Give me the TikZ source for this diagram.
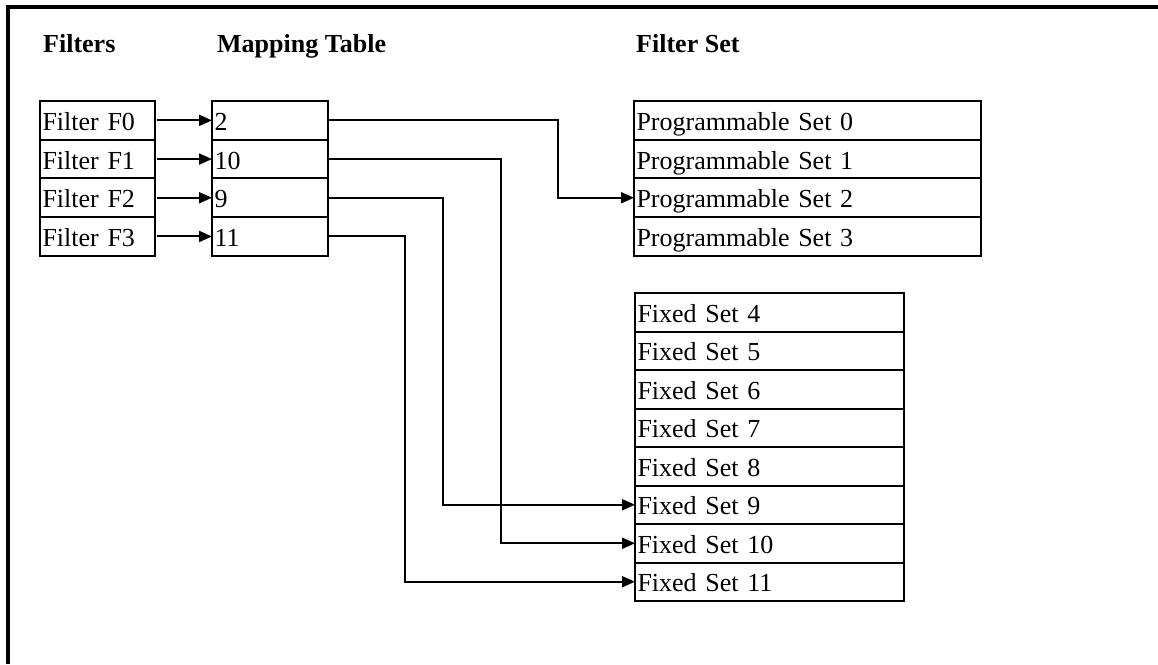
\documentclass[tikz,border=0pt]{standalone}
\usepackage{fontspec}
\setmainfont{Liberation Serif}
\usetikzlibrary{arrows.meta}
\tikzset{
  cell/.style={draw, line width=2pt, rectangle, anchor=north west, outer sep=0pt,
    minimum height=38.7pt, inner xsep=2.5pt, inner ysep=0pt, align=left,
    text height=22pt, text depth=2pt, font=\fontsize{26}{30}\selectfont},
  fcell/.style={cell, text width=110pt},
  mcell/.style={cell, text width=111pt},
  pcell/.style={cell, text width=342pt},
  xcell/.style={cell, text width=264pt, minimum height=38.5pt},
  head/.style={anchor=base west, inner sep=0pt, font=\fontsize{26}{30}\selectfont\bfseries},
  arr/.style={line width=2pt, -{Triangle[length=13pt,width=11pt]}},
  frame/.style={line width=4pt}
}
\begin{document}
\begin{tikzpicture}[x=1pt,y=-1pt]
\useasboundingbox (0,0) rectangle (1158,664);
% frame
\coordinate (fa) at (8,664);
\coordinate (fb) at (8,7);
\coordinate (fc) at (1158,7);
\draw[frame] (fa) -- (fb) -- (fc);
% headers
\node[head] (h1) at (43,52) {Filters};
\node[head] (h2) at (217,52) {Mapping Table};
\node[head] (h3) at (636,52) {Filter Set};
% filters
\node[fcell] (f0) at (40,101) {Filter F0};
\node[fcell] (f1) at (f0.south west) {Filter F1};
\node[fcell] (f2) at (f1.south west) {Filter F2};
\node[fcell] (f3) at (f2.south west) {Filter F3};
% mapping
\node[mcell] (m0) at (212,101) {2};
\node[mcell] (m1) at (m0.south west) {10};
\node[mcell] (m2) at (m1.south west) {9};
\node[mcell] (m3) at (m2.south west) {11};
% programmable
\node[pcell] (p0) at (634,101) {Programmable Set 0};
\node[pcell] (p1) at (p0.south west) {Programmable Set 1};
\node[pcell] (p2) at (p1.south west) {Programmable Set 2};
\node[pcell] (p3) at (p2.south west) {Programmable Set 3};
% fixed
\node[xcell] (x4) at (635,293) {Fixed Set 4};
\node[xcell] (x5) at (x4.south west) {Fixed Set 5};
\node[xcell] (x6) at (x5.south west) {Fixed Set 6};
\node[xcell] (x7) at (x6.south west) {Fixed Set 7};
\node[xcell] (x8) at (x7.south west) {Fixed Set 8};
\node[xcell] (x9) at (x8.south west) {Fixed Set 9};
\node[xcell] (x10) at (x9.south west) {Fixed Set 10};
\node[xcell] (x11) at (x10.south west) {Fixed Set 11};
% filter -> mapping
\foreach \i in {0,1,2,3} {
  \draw[arr, shorten <=2pt] (f\i.east) -- (m\i.west);
}
% routing columns
\coordinate (c0) at (558,0);
\coordinate (c1) at (501,0);
\coordinate (c2) at (443,0);
\coordinate (c3) at (405,0);
\draw[arr] (m0.east) -- (m0.east -| c0) |- (p2.west);
\draw[arr] (m1.east) -- (m1.east -| c1) |- (x10.west);
\draw[arr] (m2.east) -- (m2.east -| c2) |- (x9.west);
\draw[arr] (m3.east) -- (m3.east -| c3) |- (x11.west);
\end{tikzpicture}
\end{document}
